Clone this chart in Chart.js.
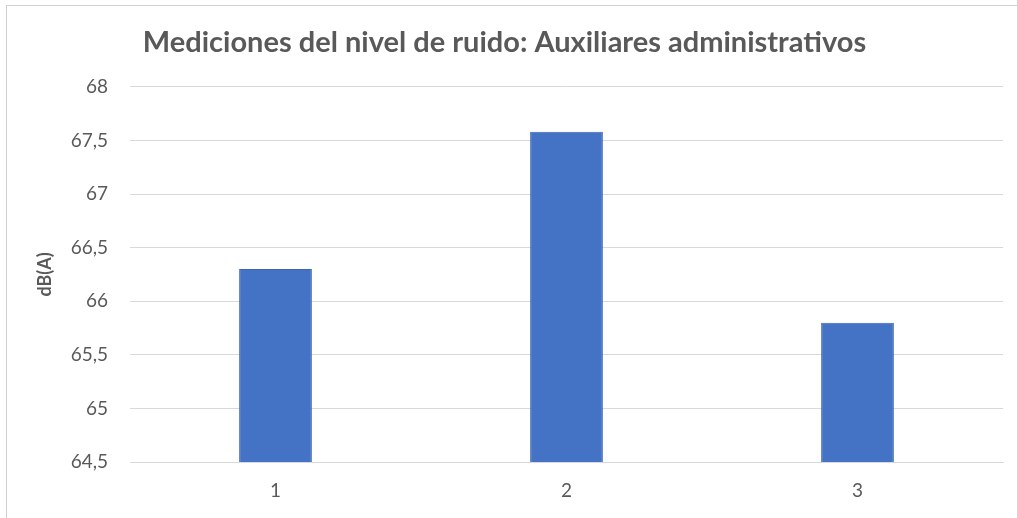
<!DOCTYPE html>
<html>
<head>
<meta charset="utf-8">
<script src="https://cdn.jsdelivr.net/npm/chart.js@4"></script>
<style>
  html, body { margin: 0; padding: 0; background: #fff; }
  #wrap { position: relative; width: 1017px; height: 518px; }
  #frame { position: absolute; left: 6px; top: 5px; width: 1020px; height: 520px;
           border: 1px solid #d0d0d0; pointer-events: none; }
</style>
</head>
<body>
<div id="wrap">
  <canvas id="chart" width="1017" height="518"></canvas>
  <div id="frame"></div>
</div>
<script>
const categories = ['1', '2', '3'];
const noiseLevels = [66.3, 67.58, 65.8];
const yMin = 64.5;
const yMax = 68;
const yStep = 0.5;

const grey = '#595959';
const fontFamily = 'Lato, "Liberation Sans", sans-serif';

new Chart(document.getElementById('chart').getContext('2d'), {
  type: 'bar',
  data: {
    labels: categories,
    datasets: [{
      label: 'dB(A)',
      data: noiseLevels,
      backgroundColor: '#4472C4',
      borderColor: '#3c66b4',
      borderWidth: 1,
      categoryPercentage: 1,
      barPercentage: 0.25
    }]
  },
  options: {
    responsive: false,
    animation: false,
    layout: { padding: { left: 6, right: 14, top: 0, bottom: 0 } },
    plugins: {
      legend: { display: false },
      tooltip: { enabled: false },
      title: {
        display: true,
        text: 'Mediciones del nivel de ruido: Auxiliares administrativos',
        color: grey,
        font: { family: fontFamily, size: 29, weight: 'bold', lineHeight: 1.2 },
        padding: { top: 25, bottom: 27 }
      }
    },
    scales: {
      x: {
        grid: { display: false, drawTicks: false },
        border: { display: true, color: '#d9d9d9', width: 1 },
        ticks: { color: grey, font: { family: fontFamily, size: 19 }, padding: 17 },
        afterFit: scale => { scale.height = 56; }
      },
      y: {
        min: yMin,
        max: yMax,
        grid: { color: '#d9d9d9', drawTicks: false },
        border: { display: false },
        ticks: {
          stepSize: yStep,
          color: grey,
          padding: 22,
          font: { family: fontFamily, size: 19 },
          callback: v => String(v).replace('.', ',')
        },
        title: {
          display: true,
          text: 'dB(A)',
          color: grey,
          font: { family: fontFamily, size: 18, weight: 'bold' },
          padding: { top: 28 }
        },
        afterFit: scale => { scale.width = 124; }
      }
    }
  }
});
</script>
</body>
</html>
